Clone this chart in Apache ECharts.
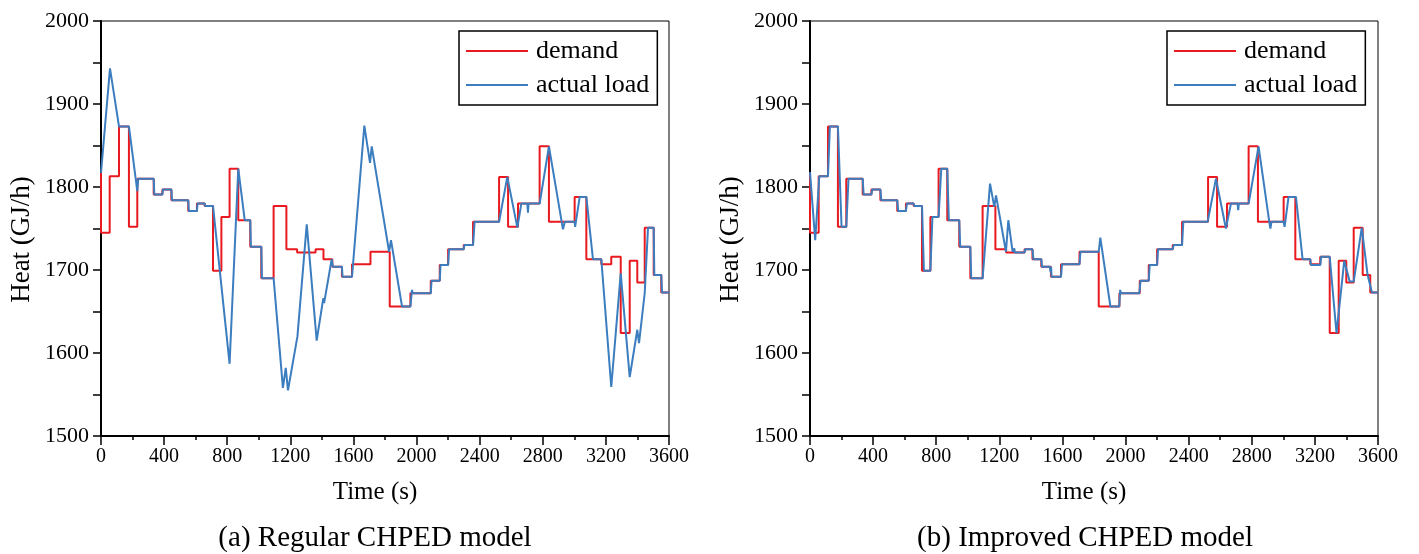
<!DOCTYPE html>
<html>
<head>
<meta charset="utf-8">
<script src="https://cdn.jsdelivr.net/npm/echarts@6/dist/echarts.min.js"></script>
<style>html,body{margin:0;padding:0;background:#fff}#c{width:1419px;height:554px}</style>
</head>
<body>
<div id="c"></div>
<script>
// Demand (step function), shared by both panels
const demandT = [0,0,55,114,177,230,334,389,446,553,608,657,710,763,815,870,946,1016,1094,1175,1243,1360,1410,1466,1527,1591,1708,1830,1961,2090,2147,2200,2299,2358,2523,2580,2643,2780,2839,3002,3076,3171,3234,3294,3351,3399,3446,3503,3551,3600];
const demandV = [1817,1745,1813,1873,1752,1810,1791,1797,1784,1771,1780,1777,1699,1764,1822,1760,1728,1690,1777,1725,1721,1725,1713,1704,1692,1707,1722,1656,1672,1687,1706,1725,1730,1758,1812,1752,1780,1849,1758,1788,1713,1707,1716,1624,1711,1685,1751,1694,1673,1673];

// (a) Regular CHPED model: actual load
const loadAT = [0,57,114,177,230,236,334,338,389,393,446,450,553,557,608,612,657,661,710,815,870,911,946,950,1016,1020,1094,1153,1171,1185,1245,1304,1367,1409,1414,1462,1470,1527,1531,1591,1669,1705,1716,1826,1838,1908,1961,1971,1975,2090,2095,2147,2152,2200,2206,2299,2303,2358,2368,2523,2575,2639,2664,2702,2706,2710,2780,2839,2928,2940,3002,3005,3034,3076,3118,3171,3234,3294,3351,3399,3410,3446,3467,3503,3507,3551,3556,3600];
const loadAV = [1817,1943,1873,1873,1795,1810,1810,1791,1791,1797,1797,1784,1784,1771,1771,1780,1780,1777,1777,1587,1822,1760,1760,1728,1728,1690,1690,1558,1582,1555,1620,1755,1615,1666,1660,1713,1704,1704,1692,1692,1874,1829,1849,1722,1736,1656,1656,1676,1672,1672,1687,1687,1706,1706,1725,1725,1730,1730,1758,1758,1812,1751,1780,1780,1769,1780,1780,1849,1749,1758,1758,1752,1788,1788,1713,1713,1559,1696,1571,1628,1612,1672,1751,1751,1694,1694,1673,1673];

// (b) Improved CHPED model: actual load
const loadBT = [0,33,59,114,126,177,200,230,244,334,340,389,395,446,452,553,559,608,614,657,663,710,722,763,776,815,832,870,880,946,952,1016,1022,1094,1141,1168,1179,1242,1257,1284,1292,1295,1298,1360,1364,1410,1416,1466,1470,1520,1524,1528,1531,1591,1597,1708,1714,1830,1840,1904,1960,1966,1970,2087,2095,2147,2153,2200,2206,2299,2305,2358,2366,2520,2573,2636,2668,2710,2714,2718,2780,2843,2911,2918,2925,3002,3008,3033,3080,3122,3171,3175,3234,3240,3294,3337,3386,3421,3446,3497,3534,3546,3562,3600];
const loadBV = [1818,1736,1813,1813,1873,1873,1752,1752,1810,1810,1791,1791,1797,1797,1784,1784,1771,1771,1780,1780,1777,1777,1699,1699,1764,1764,1822,1822,1760,1760,1728,1728,1690,1690,1804,1776,1790,1722,1760,1722,1722,1726,1721,1721,1725,1725,1713,1713,1704,1704,1698,1704,1692,1692,1707,1707,1722,1722,1739,1656,1656,1676,1672,1672,1687,1687,1706,1706,1725,1725,1730,1730,1758,1758,1810,1750,1780,1780,1772,1780,1780,1849,1758,1750,1758,1758,1752,1788,1788,1713,1713,1706,1706,1716,1716,1624,1711,1686,1686,1751,1694,1694,1673,1673];

const seriesNames = ['demand', 'actual load'];
const captions = ['(a) Regular CHPED model', '(b) Improved CHPED model'];
const xTitle = 'Time (s)';
const yTitle = 'Heat (GJ/h)';

const zip = (t, v) => t.map((x, i) => [x, v[i]]);
const FONT = "'Liberation Serif','Times New Roman',serif";
const RED = '#e8191f';
const BLUE = '#3b7dbf';

const grids = [
  {left: 101, right: 750, top: 21, bottom: 118},
  {left: 810, right: 41, top: 21, bottom: 118}
];

function xAxis(i) {
  return {
    type: 'value', gridIndex: i, min: 0, max: 3600, interval: 400,
    name: xTitle, nameLocation: 'middle', nameGap: 44,
    nameTextStyle: {fontFamily: FONT, fontSize: 25, color: '#000', padding: [0, 20, 0, 0]},
    axisLine: {show: true, lineStyle: {color: '#000', width: 2}},
    axisTick: {show: true, inside: false, length: 9, lineStyle: {color: '#000', width: 1.5}},
    minorTick: {show: true, splitNumber: 2, length: 4, lineStyle: {color: '#000', width: 1.5}},
    axisLabel: {fontFamily: FONT, fontSize: 20, color: '#000', margin: 11, formatter: v => String(v)},
    splitLine: {show: false}
  };
}
function yAxis(i) {
  return {
    type: 'value', gridIndex: i, min: 1500, max: 2000, interval: 100,
    name: yTitle, nameLocation: 'middle', nameGap: 66,
    nameTextStyle: {fontFamily: FONT, fontSize: 27, color: '#000', padding: [0, 22, 0, 0]},
    axisLine: {show: true, lineStyle: {color: '#000', width: 2}},
    axisTick: {show: true, inside: false, length: 8, lineStyle: {color: '#000', width: 1.5}},
    minorTick: {show: true, splitNumber: 2, length: 8, lineStyle: {color: '#000', width: 1.5}},
    axisLabel: {fontFamily: FONT, fontSize: 22, color: '#000', margin: 12, formatter: v => String(v)},
    splitLine: {show: false}
  };
}
function legend(left) {
  return {
    left: left, top: 31, orient: 'vertical', data: seriesNames,
    icon: 'rect', itemWidth: 62, itemHeight: 2, itemGap: 8,
    padding: [7, 8, 7, 7],
    borderColor: '#000', borderWidth: 1.5, backgroundColor: '#fff',
    textStyle: {fontFamily: FONT, fontSize: 26, color: '#000', padding: [0, 0, 0, 3]}
  };
}
function lineSeries(name, data, i, color, step) {
  return {
    name: name, type: 'line', xAxisIndex: i, yAxisIndex: i, data: data,
    step: step || false, symbol: 'none', showSymbol: false,
    lineStyle: {color: color, width: 2}, itemStyle: {color: color},
    animation: false, silent: true
  };
}

const chart = echarts.init(document.getElementById('c'), null, {renderer: 'canvas'});
chart.setOption({
  backgroundColor: '#fff',
  animation: false,
  grid: grids.map(g => Object.assign({show: true, borderColor: '#000', borderWidth: 1, backgroundColor: 'transparent'}, g)),
  xAxis: [xAxis(0), xAxis(1)],
  yAxis: [yAxis(0), yAxis(1)],
  legend: [legend(459), legend(1167)],
  series: [
    lineSeries(seriesNames[0], zip(demandT, demandV), 0, RED, 'end'),
    lineSeries(seriesNames[1], zip(loadAT, loadAV), 0, BLUE),
    lineSeries(seriesNames[0], zip(demandT, demandV), 1, RED, 'end'),
    lineSeries(seriesNames[1], zip(loadBT, loadBV), 1, BLUE)
  ],
  graphic: [
    {type: 'text', x: 375, y: 538, style: {text: captions[0], font: "29px 'Liberation Serif', serif", fill: '#000', textAlign: 'center', textVerticalAlign: 'middle'}},
    {type: 'text', x: 1085, y: 538, style: {text: captions[1], font: "29px 'Liberation Serif', serif", fill: '#000', textAlign: 'center', textVerticalAlign: 'middle'}}
  ]
});
</script>
</body>
</html>
